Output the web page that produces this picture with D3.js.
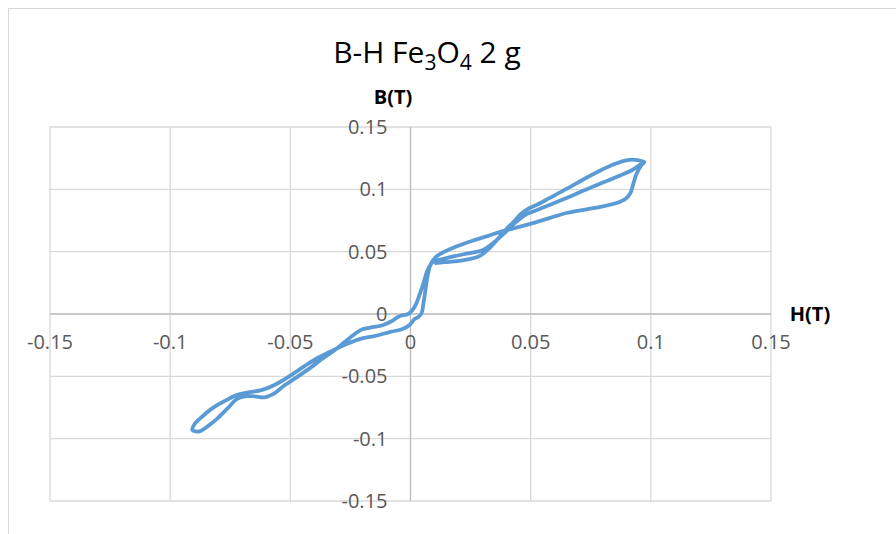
<!DOCTYPE html>
<html>
<head>
<meta charset="utf-8">
<script src="https://cdn.jsdelivr.net/npm/d3@7"></script>
<style>
  body { margin: 0; background: #fff; }
  text { font-family: "Open Sans", "Liberation Sans", sans-serif; }
</style>
</head>
<body>
<div id="chart"></div>
<script>
/* boucle B-H, dans l'ordre du tracé */
const H = [
  0.0973, 0.0953, 0.0923, 0.0857, 0.0786, 0.0715, 0.0649, 0.0578, 0.0516, 0.0483,
  0.0453, 0.0424, 0.0391, 0.0349, 0.0300, 0.0245, 0.0183, 0.0133, 0.0092,
  0.0071, 0.0054, 0.0037, 0.0021, 0.0004, -0.0012, -0.0033, -0.0054, -0.0079, -0.0116,
  -0.0158, -0.0200, -0.0233, -0.0275, -0.0316, -0.0358, -0.0420, -0.0474, -0.0524, -0.0566,
  -0.0607, -0.0649, -0.0691, -0.0724, -0.0761, -0.0803, -0.0844, -0.0878, -0.0907,
  -0.0899, -0.0865, -0.0824, -0.0774, -0.0724, -0.0670, -0.0620, -0.0566, -0.0503, -0.0441,
  -0.0387, -0.0337, -0.0275, -0.0212, -0.0150, -0.0087, -0.0033, -0.0004, 0.0017, 0.0033,
  0.0046, 0.0054, 0.0062, 0.0071, 0.0083, 0.0104, 0.0141, 0.0196, 0.0258, 0.0320,
  0.0383, 0.0433, 0.0495, 0.0578, 0.0649, 0.0715, 0.0786, 0.0857, 0.0894, 0.0915,
  0.0928, 0.0940, 0.0961, 0.0973,
  0.0944, 0.0903, 0.0849, 0.0786, 0.0715, 0.0649, 0.0578, 0.0524, 0.0487, 0.0458,
  0.0428, 0.0399, 0.0370, 0.0329, 0.0287, 0.0245, 0.0196, 0.0141, 0.0100
]
const B = [
  0.1219, 0.1195, 0.1155, 0.1099, 0.1043, 0.0986, 0.0930, 0.0874, 0.0826, 0.0801,
  0.0761, 0.0713, 0.0649, 0.0577, 0.0512, 0.0488, 0.0464, 0.0440, 0.0416,
  0.0352, 0.0247, 0.0151, 0.0071, 0.0022, -0.0002, -0.0010, -0.0026, -0.0058, -0.0090,
  -0.0106, -0.0122, -0.0162, -0.0226, -0.0291, -0.0347, -0.0436, -0.0508, -0.0572, -0.0636,
  -0.0668, -0.0660, -0.0660, -0.0684, -0.0757, -0.0837, -0.0901, -0.0941, -0.0933,
  -0.0884, -0.0820, -0.0755, -0.0699, -0.0651, -0.0627, -0.0611, -0.0570, -0.0498, -0.0418,
  -0.0353, -0.0305, -0.0249, -0.0201, -0.0177, -0.0145, -0.0120, -0.0088, -0.0040, -0.0024,
  0.0006, 0.0087, 0.0191, 0.0304, 0.0395, 0.0455, 0.0500, 0.0546, 0.0588, 0.0625,
  0.0665, 0.0689, 0.0721, 0.0769, 0.0810, 0.0834, 0.0858, 0.0890, 0.0922, 0.0970,
  0.1050, 0.1123, 0.1195, 0.1219,
  0.1235, 0.1235, 0.1203, 0.1147, 0.1075, 0.1003, 0.0930, 0.0874, 0.0842, 0.0801,
  0.0737, 0.0681, 0.0617, 0.0529, 0.0464, 0.0440, 0.0424, 0.0416, 0.0408
]
const xTicks = [-0.15, -0.1, -0.05, 0, 0.05, 0.1, 0.15]
const yTicks = [-0.15, -0.1, -0.05, 0, 0.05, 0.1, 0.15]

const W = 896, Hgt = 534
const plot = { left: 50, right: 771, top: 127, bottom: 501 }

const svg = d3.select("#chart").append("svg")
  .attr("width", W)
  .attr("height", Hgt)

// cadre du graphique
svg.append("rect")
  .attr("x", 8.5).attr("y", 8.5)
  .attr("width", 1000).attr("height", 1000)
  .attr("fill", "none")
  .attr("stroke", "#d9d9d9")

const x = d3.scaleLinear().domain([-0.15, 0.15]).range([plot.left, plot.right])
const y = d3.scaleLinear().domain([-0.15, 0.15]).range([plot.bottom, plot.top])

// grille
const grid = svg.append("g").attr("stroke", "#d9d9d9").attr("stroke-width", 1.3)
grid.selectAll("line.v").data(xTicks).join("line")
  .attr("x1", d => x(d)).attr("x2", d => x(d))
  .attr("y1", plot.top).attr("y2", plot.bottom)
grid.selectAll("line.h").data(yTicks).join("line")
  .attr("class", "h")
  .attr("x1", plot.left).attr("x2", plot.right)
  .attr("y1", d => y(d)).attr("y2", d => y(d))

// axes qui se croisent en 0
svg.append("line")
  .attr("x1", plot.left).attr("x2", plot.right)
  .attr("y1", y(0)).attr("y2", y(0))
  .attr("stroke", "#bfbfbf").attr("stroke-width", 1.3)
svg.append("line")
  .attr("x1", x(0)).attr("x2", x(0))
  .attr("y1", plot.top).attr("y2", plot.bottom)
  .attr("stroke", "#bfbfbf").attr("stroke-width", 1.3)

// étiquettes (tiret simple comme dans Excel)
svg.append("g").selectAll("text").data(xTicks).join("text")
  .attr("x", d => x(d))
  .attr("y", y(0) + 35)
  .attr("text-anchor", "middle")
  .attr("font-size", 20)
  .attr("fill", "#595959")
  .text(d => String(d))
svg.append("g").selectAll("text").data(yTicks).join("text")
  .attr("x", x(0) - 23)
  .attr("y", d => y(d))
  .attr("dy", "0.35em")
  .attr("text-anchor", "end")
  .attr("font-size", 20)
  .attr("fill", "#595959")
  .text(d => String(d))

// la courbe
const pts = H.map((h, i) => [h, B[i]])
svg.append("path")
  .datum(pts)
  .attr("fill", "none")
  .attr("stroke", "#5b9bd5")
  .attr("stroke-width", 3.8)
  .attr("stroke-linejoin", "round")
  .attr("d", d3.line().x(d => x(d[0])).y(d => y(d[1])).curve(d3.curveCatmullRom.alpha(0.5)))

// titres
const title = svg.append("text")
  .attr("x", 427).attr("y", 63)
  .attr("text-anchor", "middle")
  .attr("font-size", 30)
  .attr("fill", "#000")
title.append("tspan").text("B-H Fe")
title.append("tspan").attr("font-size", 21).attr("dy", 7).text("3")
title.append("tspan").attr("dy", -7).text("O")
title.append("tspan").attr("font-size", 21).attr("dy", 7).text("4")
title.append("tspan").attr("dy", -7).text(" 2 g")

svg.append("text")
  .attr("x", 393).attr("y", 104)
  .attr("text-anchor", "middle")
  .attr("font-size", 20).attr("font-weight", "bold")
  .text("B(T)")
svg.append("text")
  .attr("x", 810).attr("y", 321)
  .attr("text-anchor", "middle")
  .attr("font-size", 20).attr("font-weight", "bold")
  .text("H(T)")
</script>
</body>
</html>
